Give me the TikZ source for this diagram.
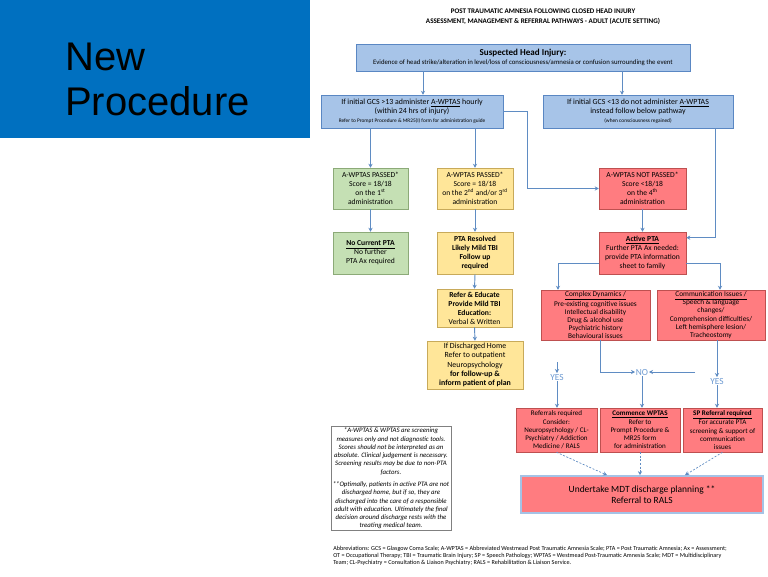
\documentclass[tikz,border=0pt]{standalone}
\usepackage{fontspec}
\setmainfont{Carlito}
\newfontfamily\arialf{Liberation Sans}
\usetikzlibrary{arrows.meta,calc}
\definecolor{panel}{RGB}{0,112,192}
\definecolor{bfill}{RGB}{167,196,232}
\definecolor{bdraw}{RGB}{90,135,195}
\definecolor{gfill}{RGB}{197,224,180}
\definecolor{gdraw}{RGB}{140,170,120}
\definecolor{yfill}{RGB}{255,230,153}
\definecolor{ydraw}{RGB}{200,170,90}
\definecolor{rfill}{RGB}{255,124,128}
\definecolor{rdraw}{RGB}{190,80,80}
\definecolor{lcol}{RGB}{95,140,195}
\definecolor{yncol}{RGB}{110,155,210}
\definecolor{glow}{RGB}{165,195,230}
\tikzset{
  fs/.style={font=\fontsize{5.7}{6.75}\selectfont},
  box/.style={draw, line width=0.4pt, inner sep=0.5pt, align=center, fs},
  bluebox/.style={box, fill=bfill, draw=bdraw},
  greenbox/.style={box, fill=gfill, draw=gdraw},
  yelbox/.style={box, fill=yfill, draw=ydraw},
  redbox/.style={box, fill=rfill, draw=rdraw},
  wh/.style 2 args={minimum width=#1*0.75pt, minimum height=#2*0.75pt},
  arr/.style={draw=lcol, line width=0.7pt, -{Stealth[length=3pt,width=3.2pt]}},
  dasharr/.style={draw=lcol, line width=0.5pt, dash pattern=on 1.5pt off 1.2pt, -{Stealth[length=3pt,width=3.2pt]}},
  yn/.style={text=yncol, font=\fontsize{7}{8}\selectfont, inner sep=0.5pt},
}
\begin{document}
\begin{tikzpicture}[x=0.75pt,y=-0.75pt]
\useasboundingbox (0,0) rectangle (768,576);
\fill[white] (0,0) rectangle (768,576);
% left panel
\fill[panel] (0,0) rectangle (310,138);
\node[anchor=base west, text={RGB:red,240;green,250;blue,255}, font=\arialf\fontsize{30}{36}\selectfont, inner sep=0] (t1) at (65,70) {New};
\node[anchor=base west, text={RGB:red,240;green,250;blue,255}, font=\arialf\fontsize{30}{36}\selectfont, inner sep=0] (t2) at (65,115) {Procedure};

% coordinates for x positions
\coordinate (c423) at (423,0);
\coordinate (c622) at (622,0);
\coordinate (c527) at (527,0);
\coordinate (c715) at (715,0);
\coordinate (c558) at (558,0);
\coordinate (c720) at (720,0);
\coordinate (c600) at (600,0);
\coordinate (c695) at (695,0);
\coordinate (c362) at (0,362);
\coordinate (c607) at (607,0);
\coordinate (c685) at (685,0);

% title
\node[align=center, font=\fontsize{5.3}{7.5}\selectfont\bfseries, inner sep=0] (title) at (543,17)
  {POST TRAUMATIC AMNESIA FOLLOWING CLOSED HEAD INJURY\\ASSESSMENT, MANAGEMENT \& REFERRAL PATHWAYS - ADULT (ACUTE SETTING)};

\node[bluebox, wh={334}{27}] (sus) at (523,57.5)
  {{\fontsize{6.8}{8}\selectfont\bfseries Suspected Head Injury:}\\[-0.5pt]
   {\fontsize{5.1}{6}\selectfont Evidence of head strike/alteration in level/loss of consciousness/amnesia or confusion surrounding the event}};

\node[bluebox, wh={182}{33}, font=\fontsize{5.9}{6.8}\selectfont] (gl) at (412,111.5)
  {If initial GCS >13 administer \underline{A-WPTAS} hourly\\(within 24 hrs of injury)\\
   {\fontsize{4}{5}\selectfont Refer to Prompt Procedure \& MR25(I) form for administration guide}};
\node[bluebox, wh={190}{33}, font=\fontsize{5.9}{6.8}\selectfont] (gr) at (638,111.5)
  {If initial GCS <13 do not administer \underline{A-WPTAS}\\instead follow below pathway\\
   {\fontsize{4}{5}\selectfont (when consciousness regained)}};

% row 1
\node[greenbox, wh={75}{41}] (p1) at (370.5,188.5)
  {A-WPTAS PASSED*\\Score = 18/18\\on the 1\textsuperscript{st}\\administration};
\node[yelbox, wh={76}{41}] (p2) at (475,188.5)
  {A-WPTAS PASSED*\\Score = 18/18\\on the 2\textsuperscript{nd} and/or 3\textsuperscript{rd}\\administration};
\node[redbox, wh={87}{41}] (np) at (642.5,188.5)
  {A-WPTAS NOT PASSED*\\Score <18/18\\on the 4\textsuperscript{th}\\administration};

% row 2
\node[greenbox, wh={75}{42}] (nc) at (370.5,253)
  {\textbf{\underline{No Current PTA}}\\No further\\PTA Ax required};
\node[yelbox, wh={76}{42}, font=\fontsize{5.7}{6.75}\selectfont\bfseries] (pr) at (475,253)
  {PTA Resolved\\Likely Mild TBI\\Follow up\\required};
\node[redbox, wh={87}{42}] (ap) at (642.5,253)
  {\textbf{\underline{Active PTA}}\\Further PTA Ax needed:\\provide PTA information\\sheet to family};

% row 3
\node[yelbox, wh={75}{38}] (re) at (474.5,308)
  {\textbf{Refer \& Educate}\\\textbf{Provide Mild TBI}\\\textbf{Education:}\\Verbal \& Written};
\node[redbox, wh={109}{50}, font=\fontsize{5.5}{6.1}\selectfont] (cd) at (595.5,315)
  {\underline{Complex Dynamics /}\\Pre-existing cognitive issues\\Intellectual disability\\Drug \& alcohol use\\Psychiatric history\\Behavioural issues};
\node[redbox, wh={108}{50}, font=\fontsize{5.5}{6.1}\selectfont] (ci) at (711,315)
  {\underline{Communication Issues /}\\Speech \& language\\changes/\\Comprehension difficulties/\\Left hemisphere lesion/\\Tracheostomy};

\node[yelbox, wh={96}{48}, font=\fontsize{5.9}{6.9}\selectfont] (dh) at (475,365)
  {If Discharged Home\\Refer to outpatient\\Neuropsychology\\\textbf{for follow-up \&}\\\textbf{inform patient of plan}};

% yes / no
\node[yn] (yes1) at (557,377) {YES};
\node[yn] (no) at (642,372) {NO};
\node[yn] (yes2) at (717,381) {YES};

% row 4
\node[redbox, wh={81}{44}, font=\fontsize{5.3}{6.2}\selectfont] (rr) at (556.5,430)
  {Referrals required\\Consider:\\Neuropsychology / CL-\\Psychiatry / Addiction\\Medicine / RALS};
\node[redbox, wh={80}{44}, font=\fontsize{5.3}{6.2}\selectfont] (cw) at (640,430)
  {\textbf{\underline{Commence WPTAS}}\\Refer to\\Prompt Procedure \&\\MR25 form\\for administration};
\node[redbox, wh={79}{44}, font=\fontsize{5.3}{6.2}\selectfont] (sp) at (722.5,430)
  {\textbf{\underline{SP Referral required}}\\For accurate PTA\\screening \& support of\\communication\\issues};

% note
\node[draw=gray, line width=0.4pt, fill=white, wh={120}{103}, inner sep=1pt, align=center,
      font=\fontsize{5.1}{6.2}\selectfont\itshape] (note) at (391,478.5)
  {*A-WPTAS \& WPTAS are screening\\measures only and not diagnostic tools.\\Scores should not be interpreted as an\\absolute. Clinical judgement is necessary.\\Screening results may be due to non-PTA\\factors.\\[3pt]
   **Optimally, patients in active PTA are not\\discharged home, but if so, they are\\discharged into the care of a responsible\\adult with education. Ultimately the final\\decision around discharge rests with the\\treating medical team.};

% final
\node[draw=glow, line width=1.3pt, fill=rfill, wh={242}{37}, align=center,
      font=\fontsize{7.1}{8}\selectfont] (fin) at (642,494.5)
  {Undertake MDT discharge planning **\\Referral to RALS};

% abbreviations
\node[anchor=west, align=left, inner sep=0, font=\fontsize{4.6}{5.25}\selectfont] (abbr) at (333,556)
  {Abbreviations: GCS = Glasgow Coma Scale; A-WPTAS = Abbreviated Westmead Post Traumatic Amnesia Scale; PTA = Post Traumatic Amnesia; Ax = Assessment;\\
   OT = Occupational Therapy; TBI = Traumatic Brain Injury; SP = Speech Pathology; WPTAS = Westmead Post-Traumatic Amnesia Scale; MDT = Multidisciplinary\\
   Team; CL-Psychiatry = Consultation \& Liaison Psychiatry; RALS = Rehabilitation \& Liaison Service.};

% connectors
\draw[arr] (sus.south -| c423) -- (gl.north -| c423);
\draw[arr] (sus.south -| c622) -- (gr.north -| c622);
\draw[arr] (gl.south -| p1) -- (p1.north);
\draw[arr] (gl.south -| p2) -- (p2.north);
\draw[arr] (gl.east) -- (gl.east -| c527) |- (np.west);
\draw[arr] (gr.south -| c715) |- ($(ap.north east)!0.14!(ap.south east)$);
\draw[arr] (p1.south) -- (nc.north);
\draw[arr] (p2.south) -- (pr.north);
\draw[arr] (np.south) -- (ap.north);
\draw[arr] (pr.south) -- (re.north);
\draw[arr] (re.south) -- (dh.north);
\draw[arr] ($(ap.north west)!0.74!(ap.south west)$) -| (cd.north -| c558);
\draw[arr] ($(ap.north east)!0.74!(ap.south east)$) -| (ci.north -| c720);
\draw[arr] (cd.south -| c600) |- (no.west);
\draw[arr] (ci.south -| yes2) -- (yes2.north);
\draw[arr] (c695 |- no.east) -- (no.east);
\draw[arr] (yes1.north |- c362) -- (yes1.north);
\draw[arr] (yes1.south) -- (rr.north -| yes1);
\draw[arr] (no.south) -- (cw.north -| no);
\draw[arr] (yes2.south) -- (sp.north -| yes2);
\draw[dasharr] (rr.south) -- (fin.north -| c607);
\draw[dasharr] (cw.south) -- (fin.north -| cw);
\draw[dasharr] (sp.south) -- (fin.north -| c685);
\end{tikzpicture}
\end{document}
